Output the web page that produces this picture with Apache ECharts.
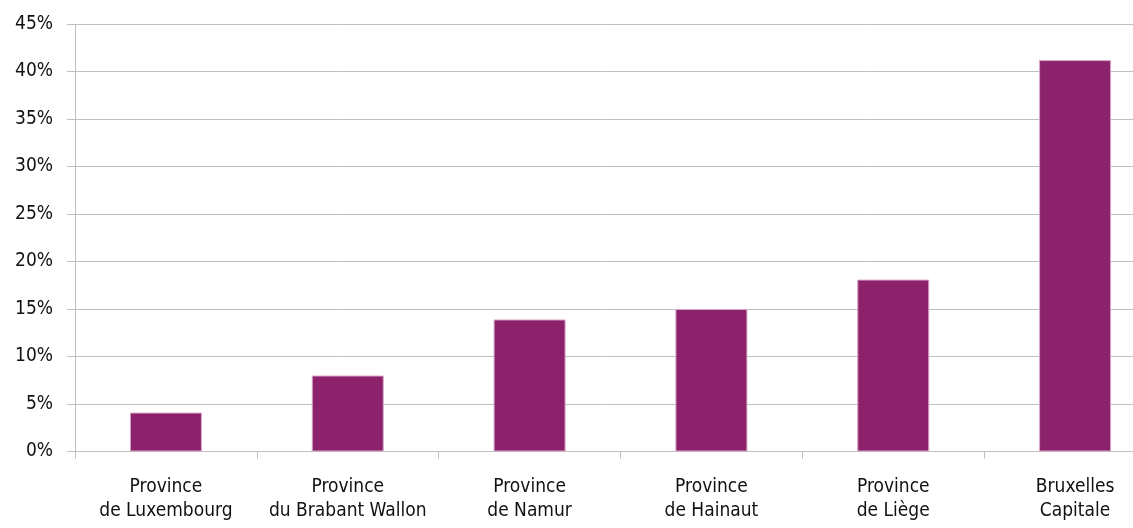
<!DOCTYPE html>
<html>
<head>
<meta charset="utf-8">
<script src="https://cdn.jsdelivr.net/npm/echarts@6/dist/echarts.min.js"></script>
<style>
html,body{margin:0;padding:0;background:#fff;}
#c{width:1133px;height:528px;}
</style>
</head>
<body>
<div id="c"></div>
<script>
const categories = ["Province\nde Luxembourg", "Province\ndu Brabant Wallon", "Province\nde Namur", "Province\nde Hainaut", "Province\nde Liège", "Bruxelles\nCapitale"];
const values = [4.1, 8.0, 13.9, 15.0, 18.1, 41.2];
const yTicks = [0, 5, 10, 15, 20, 25, 30, 35, 40, 45];

const FONT = '"DejaVu Sans Condensed", "Liberation Sans Narrow", sans-serif';
const chart = echarts.init(document.getElementById('c'), null, {renderer: 'canvas'});
chart.setOption({
  animation: false,
  grid: {left: 75, width: 1091, top: 24, height: 427.5, containLabel: false, outerBoundsMode: 'none'},
  xAxis: {
    type: 'category',
    data: categories,
    axisLine: {show: true, lineStyle: {color: '#bfbfbf', width: 1}},
    axisTick: {show: true, length: 7, lineStyle: {color: '#bfbfbf'}},
    axisLabel: {color: '#111', fontFamily: FONT, fontSize: 19, lineHeight: 24, margin: 24, interval: 0}
  },
  yAxis: {
    type: 'value',
    min: yTicks[0], max: yTicks[yTicks.length - 1], interval: 5,
    axisLine: {show: true, lineStyle: {color: '#bfbfbf', width: 1}},
    axisTick: {show: true, length: 8, lineStyle: {color: '#bfbfbf'}},
    splitLine: {show: true, lineStyle: {color: '#bfbfbf', width: 1}},
    axisLabel: {color: '#111', fontFamily: FONT, fontSize: 19, margin: 22, formatter: v => v + '%'}
  },
  series: [{
    type: 'bar',
    data: values,
    barWidth: 72,
    itemStyle: {color: '#8b226b', borderColor: '#d9a6c9', borderWidth: 1}
  }]
});
</script>
</body>
</html>
